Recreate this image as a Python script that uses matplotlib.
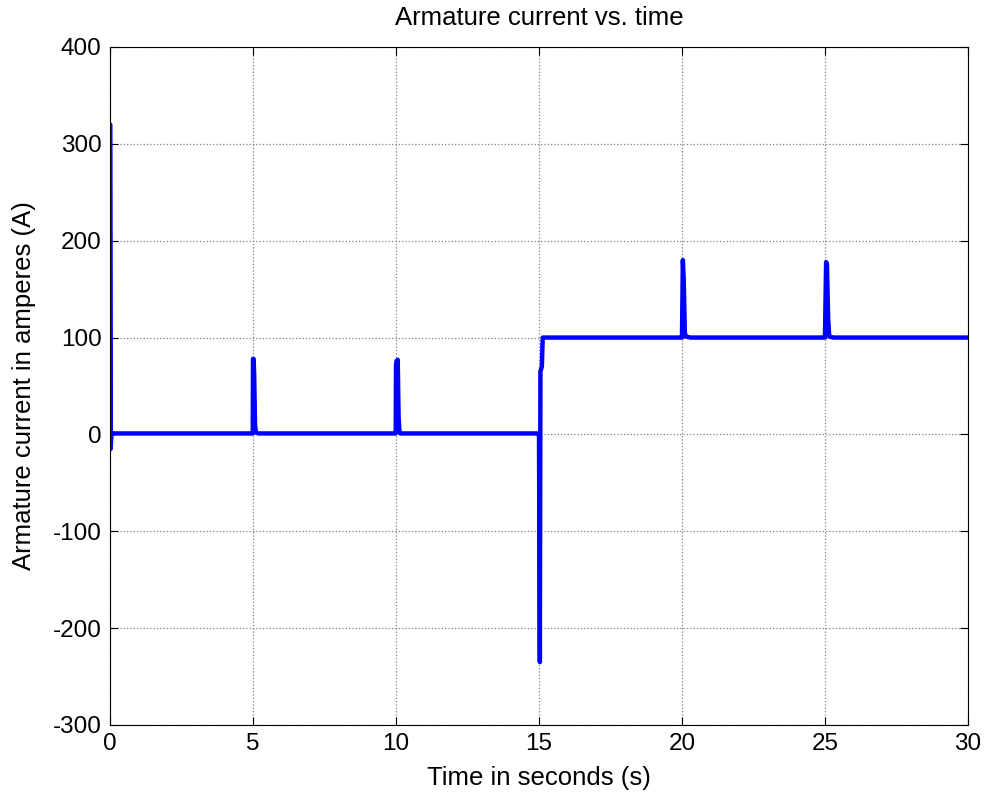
import matplotlib
matplotlib.use("Agg")
import matplotlib.pyplot as plt

plt.rcParams['font.family'] = ['Liberation Sans', 'DejaVu Sans']
plt.rcParams['axes.unicode_minus'] = False

# Armature current trace (time in s, current in A)
time_s = [0.0, 0.0, 0.02, 0.05, 0.1, 4.99, 5.0, 5.02, 5.04, 5.07, 5.1, 5.2,
          9.99, 10.0, 10.02, 10.06, 10.09, 10.12, 10.15, 10.25,
          14.99, 15.0, 15.03, 15.05, 15.1, 15.13, 15.2, 15.3,
          19.99, 20.0, 20.03, 20.06, 20.1, 20.14, 20.3,
          24.99, 25.0, 25.04, 25.07, 25.11, 25.15, 25.3, 30.0]
current_a = [0.0, 320, -15, 2, 1, 1, 78, 78, 62, 10, 2, 1,
             1, 72, 76, 77, 18, 3, 1, 1,
             1, 1, -235, 65, 70, 100, 100, 100,
             100, 100, 180, 160, 105, 101, 100,
             100, 100, 178, 175, 120, 101, 100, 100]

x_ticks = [0, 5, 10, 15, 20, 25, 30]
y_ticks = [-300, -200, -100, 0, 100, 200, 300, 400]

fig = plt.figure(figsize=(9.86, 7.96), dpi=100)
ax = fig.add_axes([0.1116, 0.0892, 0.8701, 0.8518])
ax.plot(time_s, current_a, color='#0000ff', linewidth=3.2,
        solid_joinstyle='round', solid_capstyle='round')
ax.set_xlim(0, 30)
ax.set_ylim(-300, 400)
ax.set_xticks(x_ticks)
ax.set_yticks(y_ticks)
ax.grid(True, linestyle=':', color='#808080', linewidth=0.9)
ax.tick_params(direction='in', top=True, right=True, length=6, labelsize=17.5, pad=6)
for s in ax.spines.values():
    s.set_linewidth(0.8)
ax.set_title('Armature current vs. time', fontsize=18.5, pad=16)
ax.set_xlabel('Time in seconds (s)', fontsize=18.5, labelpad=8)
ax.set_ylabel('Armature current in amperes (A)', fontsize=18.5, labelpad=12)
fig.savefig('out.png', dpi=100)
